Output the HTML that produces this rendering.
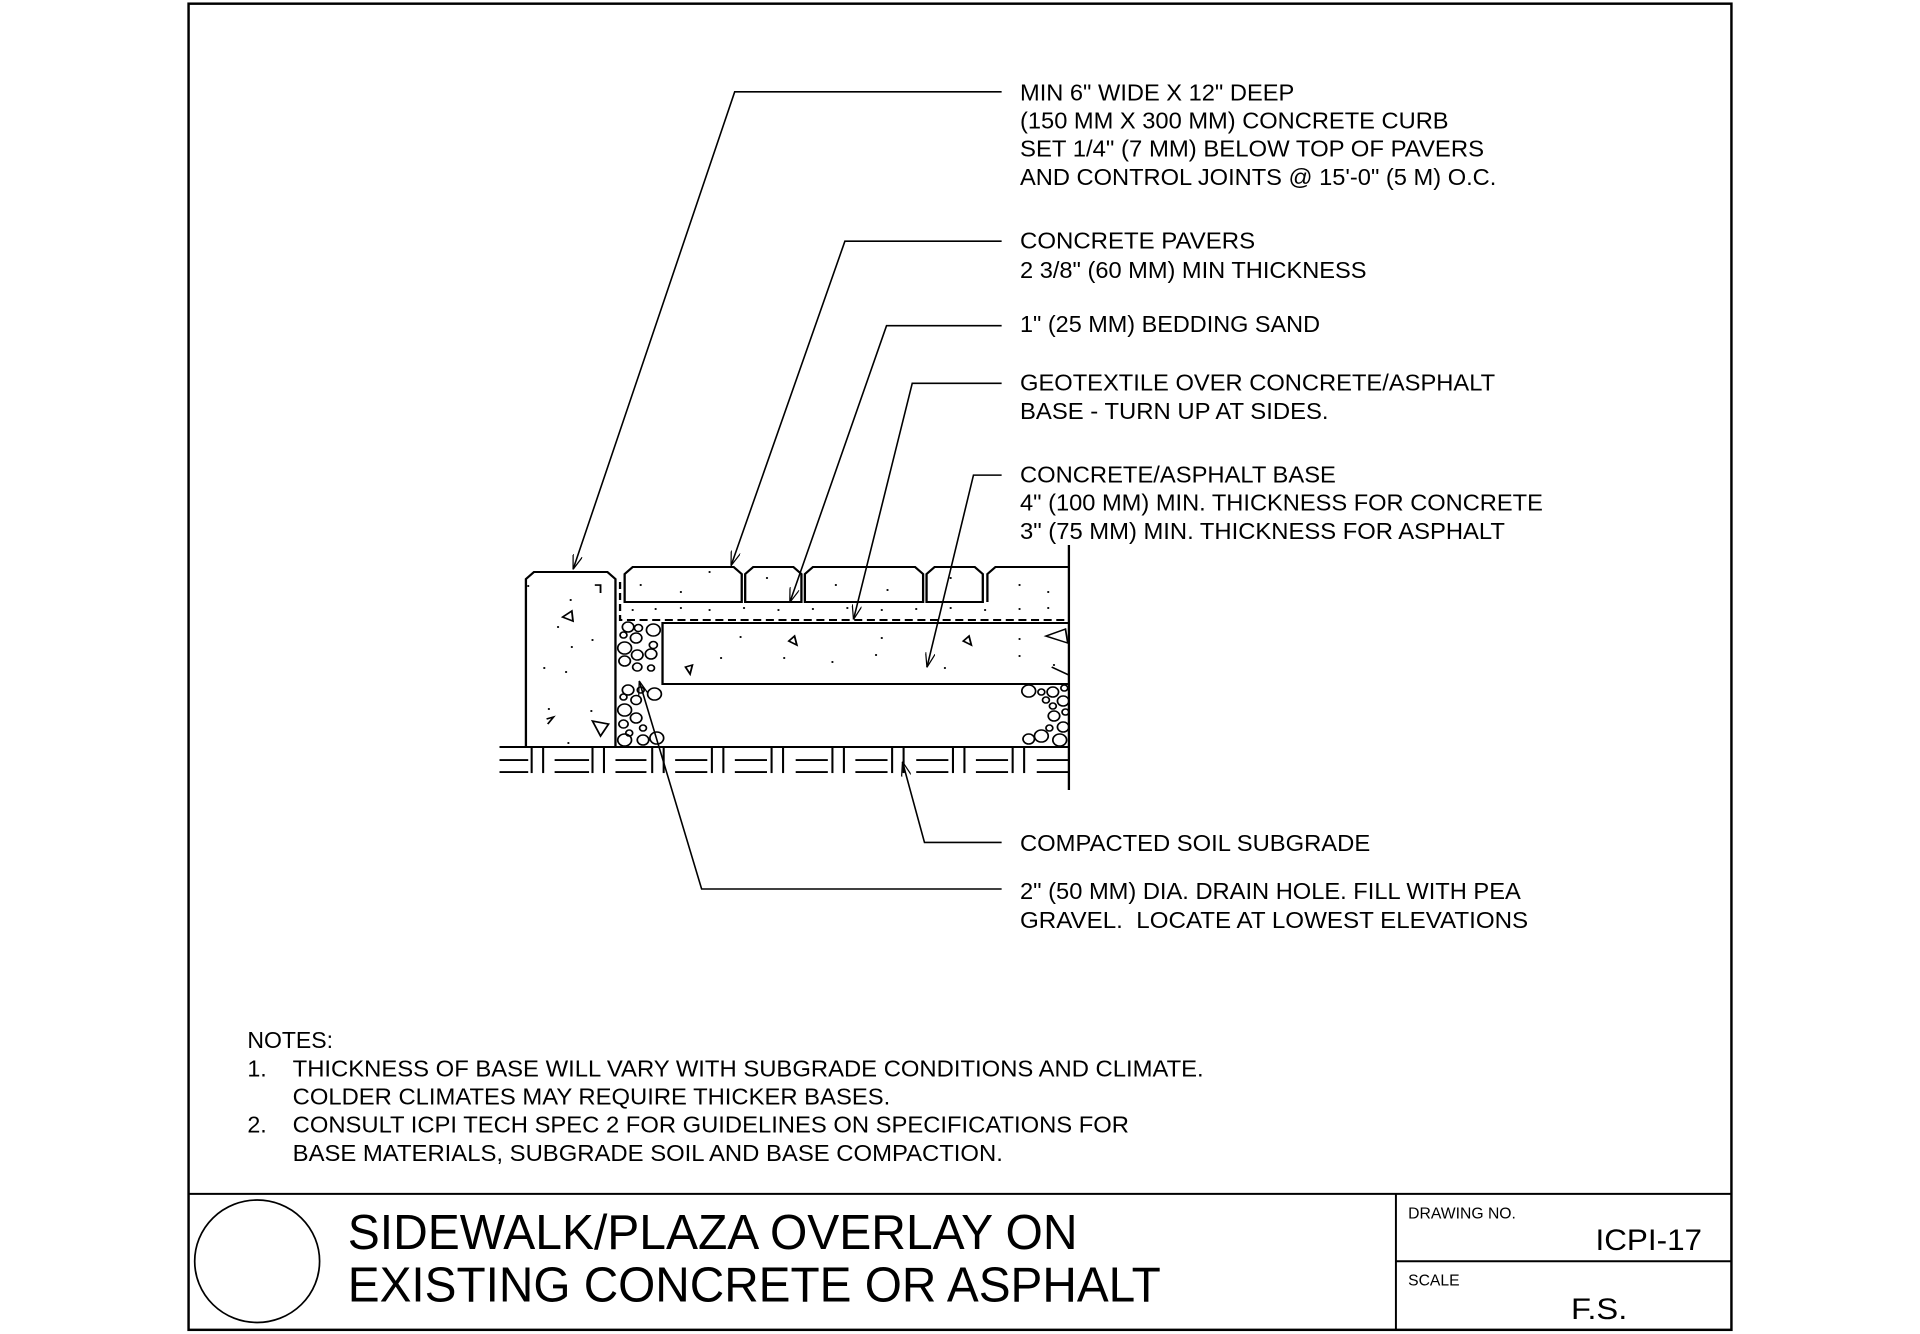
<!DOCTYPE html>
<html><head><meta charset="utf-8"><style>
html,body{margin:0;padding:0;background:#fff;}
svg{display:block;}
text{font-family:"Liberation Sans",Arial,sans-serif;fill:#000;}
</style></head><body>
<svg width="1920" height="1334" viewBox="0 0 1568 1089.4" preserveAspectRatio="none" xmlns="http://www.w3.org/2000/svg">
<defs>
<marker id="ar" viewBox="0 0 12 8" refX="12" refY="4" markerWidth="12" markerHeight="8" markerUnits="userSpaceOnUse" orient="auto">
<path d="M0,0 L12,4 L0,8" fill="none" stroke="#000" stroke-width="1"/>
</marker>
</defs>
<!-- frame -->
<rect x="154" y="3" width="1260" height="1083" fill="none" stroke="#000" stroke-width="2"/>
<line x1="154" y1="975" x2="1414" y2="975" stroke="#000" stroke-width="1.6"/>
<line x1="1140" y1="975" x2="1140" y2="1086" stroke="#000" stroke-width="1.6"/>
<line x1="1140" y1="1030" x2="1414" y2="1030" stroke="#000" stroke-width="1.6"/>
<ellipse cx="210" cy="1030" rx="51" ry="50" fill="none" stroke="#000" stroke-width="1.4"/>
<text x="284" y="1020" font-size="40" textLength="596" lengthAdjust="spacingAndGlyphs">SIDEWALK/PLAZA OVERLAY ON</text>
<text x="284" y="1063" font-size="40" textLength="664" lengthAdjust="spacingAndGlyphs">EXISTING CONCRETE OR ASPHALT</text>
<text x="1150" y="995" font-size="13" textLength="88" lengthAdjust="spacingAndGlyphs">DRAWING NO.</text>
<text x="1303" y="1021" font-size="24" textLength="87" lengthAdjust="spacingAndGlyphs">ICPI-17</text>
<text x="1150" y="1050" font-size="13" textLength="42" lengthAdjust="spacingAndGlyphs">SCALE</text>
<text x="1283" y="1077" font-size="24" textLength="46" lengthAdjust="spacingAndGlyphs">F.S.</text>

<!-- notes -->
<g font-size="19">
<text x="202" y="856" textLength="70" lengthAdjust="spacingAndGlyphs">NOTES:</text>
<text x="202" y="879">1.</text>
<text x="239" y="879" textLength="744" lengthAdjust="spacingAndGlyphs">THICKNESS OF BASE WILL VARY WITH SUBGRADE CONDITIONS AND CLIMATE.</text>
<text x="239" y="902" textLength="488" lengthAdjust="spacingAndGlyphs">COLDER CLIMATES MAY REQUIRE THICKER BASES.</text>
<text x="202" y="925">2.</text>
<text x="239" y="925" textLength="683" lengthAdjust="spacingAndGlyphs">CONSULT ICPI TECH SPEC 2 FOR GUIDELINES ON SPECIFICATIONS FOR</text>
<text x="239" y="948" textLength="580" lengthAdjust="spacingAndGlyphs">BASE MATERIALS, SUBGRADE SOIL AND BASE COMPACTION.</text>
</g>

<!-- labels -->
<g font-size="19">
<text x="833" y="82" textLength="224" lengthAdjust="spacingAndGlyphs">MIN 6" WIDE X 12" DEEP</text>
<text x="833" y="105" textLength="350" lengthAdjust="spacingAndGlyphs">(150 MM X 300 MM) CONCRETE CURB</text>
<text x="833" y="128" textLength="379" lengthAdjust="spacingAndGlyphs">SET 1/4" (7 MM) BELOW TOP OF PAVERS</text>
<text x="833" y="151" textLength="389" lengthAdjust="spacingAndGlyphs">AND CONTROL JOINTS @ 15'-0" (5 M) O.C.</text>
<text x="833" y="203" textLength="192" lengthAdjust="spacingAndGlyphs">CONCRETE PAVERS</text>
<text x="833" y="227" textLength="283" lengthAdjust="spacingAndGlyphs">2 3/8" (60 MM) MIN THICKNESS</text>
<text x="833" y="271" textLength="245" lengthAdjust="spacingAndGlyphs">1" (25 MM) BEDDING SAND</text>
<text x="833" y="319" textLength="388" lengthAdjust="spacingAndGlyphs">GEOTEXTILE OVER CONCRETE/ASPHALT</text>
<text x="833" y="342" textLength="252" lengthAdjust="spacingAndGlyphs">BASE - TURN UP AT SIDES.</text>
<text x="833" y="394" textLength="258" lengthAdjust="spacingAndGlyphs">CONCRETE/ASPHALT BASE</text>
<text x="833" y="417" textLength="427" lengthAdjust="spacingAndGlyphs">4" (100 MM) MIN. THICKNESS FOR CONCRETE</text>
<text x="833" y="440" textLength="396" lengthAdjust="spacingAndGlyphs">3" (75 MM) MIN. THICKNESS FOR ASPHALT</text>
<text x="833" y="695" textLength="286" lengthAdjust="spacingAndGlyphs">COMPACTED SOIL SUBGRADE</text>
<text x="833" y="734" textLength="409" lengthAdjust="spacingAndGlyphs">2" (50 MM) DIA. DRAIN HOLE. FILL WITH PEA</text>
<text x="833" y="758" textLength="415" lengthAdjust="spacingAndGlyphs" xml:space="preserve">GRAVEL.  LOCATE AT LOWEST ELEVATIONS</text>
</g>

<!-- leaders -->
<g fill="none" stroke="#000" stroke-width="1.3">
<polyline points="818,75 600,75 468,465" marker-end="url(#ar)"/>
<polyline points="818,197 690,197 597,462" marker-end="url(#ar)"/>
<polyline points="818,266 724,266 645,492" marker-end="url(#ar)"/>
<polyline points="818,313 745,313 697,506" marker-end="url(#ar)"/>
<polyline points="818,388 795,388 757,545" marker-end="url(#ar)"/>
<polyline points="818,688 755,688 737,622" marker-end="url(#ar)"/>
<polyline points="818,726 573,726 522,556" marker-end="url(#ar)"/>
</g>

<!-- section drawing -->
<g transform="matrix(0.9375 0 0 0.8167 -58 0)" fill="none" stroke="#000" stroke-width="2">
<path d="M520,747 L520,579 L527,572 L591,572 L598,579 L598,747"/>
<path d="M606,602 L606,574 L613,567 L701,567 L708,574 L708,602 Z"/>
<path d="M711,602 L711,574 L718,567 L753,567 L760,574 L760,602 Z"/>
<path d="M763,602 L763,574 L770,567 L859,567 L866,574 L866,602 Z"/>
<path d="M869,602 L869,574 L876,567 L911,567 L918,574 L918,602 Z"/>
<path d="M922,602 L922,574 L929,567 L993,567"/>
<line x1="993" y1="545" x2="993" y2="790"/>
<path d="M602,582 L602,620 L993,620" stroke-dasharray="7,4"/>
<path d="M993,623 L639,623 L639,684 L993,684"/>
<path d="M978,667 L993,675" stroke-width="1.5"/>
<path d="M973,636 L990,629 L992,643 Z" stroke-width="1.5"/>
<line x1="497" y1="747" x2="993" y2="747"/>
<g stroke-width="1.6">
<path d="M552,617 L560,611 L561,621 Z"/>
<path d="M578,721 L592,724 L585,736 Z"/>
<path d="M538,719 L544,717 L539,724"/>
<path d="M754,636 L756,645 L749,641 Z"/>
<path d="M906,636 L908,645 L901,641 Z"/>
<path d="M665,665 L663,674 L659,667 Z"/>
<path d="M580,585 L585,585 L585,593"/>
</g>
<g fill="#000" stroke="none">
<circle cx="522" cy="586" r="1"/><circle cx="559" cy="600" r="1"/><circle cx="548" cy="627" r="1"/><circle cx="578" cy="640" r="1"/><circle cx="560" cy="647" r="1"/><circle cx="536" cy="668" r="1"/><circle cx="555" cy="672" r="1"/><circle cx="540" cy="709" r="1"/><circle cx="557" cy="743" r="1"/><circle cx="577" cy="711" r="1"/>
<circle cx="620" cy="585" r="1"/><circle cx="655" cy="592" r="1"/><circle cx="680" cy="572" r="1"/><circle cx="730" cy="578" r="1"/><circle cx="790" cy="585" r="1"/><circle cx="835" cy="590" r="1"/><circle cx="890" cy="578" r="1"/><circle cx="950" cy="585" r="1"/><circle cx="975" cy="592" r="1"/>
<circle cx="613" cy="610" r="1"/><circle cx="633" cy="609" r="1"/><circle cx="655" cy="608" r="1"/><circle cx="680" cy="610" r="1"/><circle cx="710" cy="608" r="1"/><circle cx="740" cy="610" r="1"/><circle cx="770" cy="609" r="1"/><circle cx="800" cy="608" r="1"/><circle cx="830" cy="610" r="1"/><circle cx="860" cy="609" r="1"/><circle cx="890" cy="608" r="1"/><circle cx="920" cy="610" r="1"/><circle cx="950" cy="609" r="1"/><circle cx="975" cy="608" r="1"/>
<circle cx="707" cy="637" r="1"/><circle cx="690" cy="658" r="1"/><circle cx="745" cy="658" r="1"/><circle cx="830" cy="638" r="1"/><circle cx="825" cy="655" r="1"/><circle cx="787" cy="662" r="1"/><circle cx="885" cy="668" r="1"/><circle cx="950" cy="639" r="1"/><circle cx="950" cy="656" r="1"/><circle cx="980" cy="665" r="1"/>
</g>
<g stroke-width="1.5">
<circle cx="609" cy="627" r="5"/><circle cx="618" cy="628" r="3.5"/><circle cx="631" cy="630" r="6"/><circle cx="605" cy="635" r="3"/><circle cx="616" cy="638" r="5"/><circle cx="631" cy="645" r="3.5"/><circle cx="606" cy="648" r="6"/><circle cx="617" cy="655" r="5"/><circle cx="629" cy="654" r="5"/><circle cx="606" cy="661" r="5"/><circle cx="617" cy="667" r="4"/><circle cx="629" cy="668" r="3"/>
<circle cx="609" cy="690" r="5"/><circle cx="620" cy="690" r="3"/><circle cx="632" cy="694" r="6"/><circle cx="605" cy="697" r="3"/><circle cx="616" cy="700" r="4.5"/><circle cx="606" cy="710" r="6"/><circle cx="616" cy="718" r="5"/><circle cx="605" cy="724" r="4"/><circle cx="622" cy="728" r="3"/><circle cx="610" cy="733" r="3"/><circle cx="606" cy="740" r="6"/><circle cx="622" cy="740" r="5"/><circle cx="634" cy="738" r="6"/>
<circle cx="958" cy="691" r="6"/><circle cx="969" cy="692" r="3"/><circle cx="979" cy="692" r="5"/><circle cx="989" cy="688" r="3"/><circle cx="973" cy="700" r="3"/><circle cx="988" cy="701" r="5"/><circle cx="979" cy="706" r="3"/><circle cx="990" cy="712" r="3"/><circle cx="980" cy="716" r="5"/><circle cx="976" cy="728" r="3"/><circle cx="988" cy="727" r="5"/><circle cx="958" cy="739" r="5"/><circle cx="969" cy="736" r="6"/><circle cx="985" cy="740" r="6"/>
</g>
<g stroke-width="1.8">
<line x1="497" y1="760" x2="522" y2="760"/><line x1="497" y1="772" x2="522" y2="772"/>
<line x1="525" y1="747" x2="525" y2="773"/><line x1="535" y1="747" x2="535" y2="773"/>
<line x1="545" y1="760" x2="575" y2="760"/><line x1="545" y1="772" x2="575" y2="772"/>
<line x1="578" y1="747" x2="578" y2="773"/><line x1="588" y1="747" x2="588" y2="773"/>
<line x1="598" y1="760" x2="625" y2="760"/><line x1="598" y1="772" x2="625" y2="772"/>
<line x1="630" y1="747" x2="630" y2="773"/><line x1="640" y1="747" x2="640" y2="773"/>
<line x1="650" y1="760" x2="678" y2="760"/><line x1="650" y1="772" x2="678" y2="772"/>
<line x1="682" y1="747" x2="682" y2="773"/><line x1="692" y1="747" x2="692" y2="773"/>
<line x1="702" y1="760" x2="730" y2="760"/><line x1="702" y1="772" x2="730" y2="772"/>
<line x1="734" y1="747" x2="734" y2="773"/><line x1="744" y1="747" x2="744" y2="773"/>
<line x1="755" y1="760" x2="783" y2="760"/><line x1="755" y1="772" x2="783" y2="772"/>
<line x1="787" y1="747" x2="787" y2="773"/><line x1="797" y1="747" x2="797" y2="773"/>
<line x1="807" y1="760" x2="835" y2="760"/><line x1="807" y1="772" x2="835" y2="772"/>
<line x1="839" y1="747" x2="839" y2="773"/><line x1="849" y1="747" x2="849" y2="773"/>
<line x1="860" y1="760" x2="888" y2="760"/><line x1="860" y1="772" x2="888" y2="772"/>
<line x1="892" y1="747" x2="892" y2="773"/><line x1="902" y1="747" x2="902" y2="773"/>
<line x1="912" y1="760" x2="940" y2="760"/><line x1="912" y1="772" x2="940" y2="772"/>
<line x1="944" y1="747" x2="944" y2="773"/><line x1="954" y1="747" x2="954" y2="773"/>
<line x1="965" y1="760" x2="993" y2="760"/><line x1="965" y1="772" x2="993" y2="772"/>
</g>
</g>
</svg>
</body></html>
